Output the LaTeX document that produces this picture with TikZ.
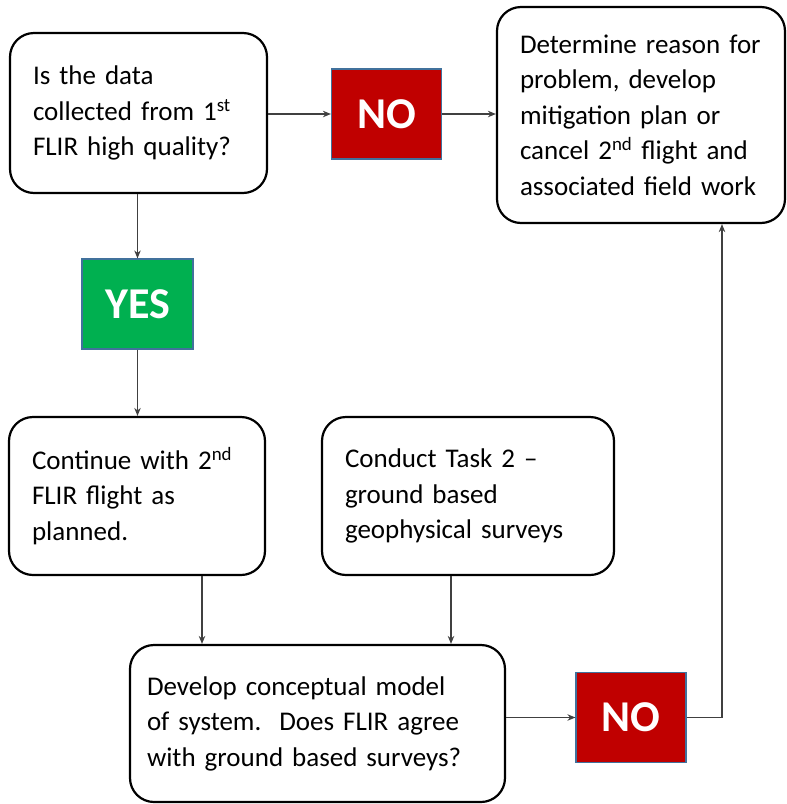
\documentclass[tikz,border=0pt]{standalone}
\usepackage{fontspec}
\setmainfont{Carlito}
\usetikzlibrary{calc,arrows.meta}
\definecolor{nored}{HTML}{C00000}
\definecolor{yesgreen}{HTML}{00B050}
\definecolor{edgeblue}{HTML}{41719C}
\definecolor{linegray}{HTML}{404040}
\begin{document}
\begin{tikzpicture}[x=1pt,y=-1pt,
  procbox/.style={draw=black, line width=2.2pt, rounded corners=24pt, fill=white,
    align=left, anchor=center, font=\fontsize{27}{35.5}\selectfont, text=black},
  nobox/.style={draw=edgeblue, line width=1.2pt, fill=nored, text=white,
    font=\fontsize{44}{44}\selectfont\bfseries, minimum width=110pt, minimum height=90pt, inner sep=0pt},
  yesbox/.style={draw=edgeblue, line width=1.2pt, fill=yesgreen, text=white,
    font=\fontsize{44}{44}\selectfont\bfseries, minimum width=111pt, minimum height=90pt, inner sep=0pt},
  arr/.style={draw=linegray, line width=1.4pt, -{Stealth[length=8pt,width=6.5pt]}}
]
\useasboundingbox (0,0) rectangle (787,804);

\node[procbox, inner xsep=23pt, text width=211pt, minimum height=160pt] (q1) at (138.5,113)
  {Is the data\\\mbox{collected from 1\textsuperscript{st}}\\\mbox{FLIR high quality?}};
\node[nobox] (no1) at (386.5,114) {NO};
\node[procbox, inner xsep=23pt, text width=242pt, minimum height=216pt] (det) at (641,115)
  {\mbox{Determine reason for}\\problem, develop\\mitigation plan or\\\mbox{cancel 2\textsuperscript{nd} flight and}\\\mbox{associated field work}};
\node[yesbox] (yes) at (137.5,304) {YES};
\node[procbox, inner xsep=23pt, text width=210pt, minimum height=158pt] (cont) at (137,496)
  {\mbox{Continue with 2\textsuperscript{nd}}\\FLIR flight as\\planned.};
\node[procbox, inner xsep=23pt, text width=246pt, minimum height=158pt] (task) at (468,496)
  {Conduct Task 2 --\\ground based\\\mbox{geophysical surveys}};
\node[procbox, inner xsep=17pt, text width=341pt, minimum height=157pt] (dev) at (317.5,723.5)
  {\mbox{Develop conceptual model}\\\mbox{of system.\ \ Does FLIR agree}\\\mbox{with ground based surveys?}};
\node[nobox] (no2) at (631,717.5) {NO};

\draw[arr] (no1.west -| q1.east) -- (no1.west);
\draw[arr] (no1.east) -- (no1.east -| det.west);
\draw[arr] (yes.north |- q1.south) -- (yes.north);
\draw[arr] (yes.south) -- (yes.south |- cont.north);
\coordinate (c1) at ($(cont.south)+(65,0)$);
\draw[arr] (c1) -- (c1 |- dev.north);
\coordinate (c2) at ($(task.south)+(-17,0)$);
\draw[arr] (c2) -- (c2 |- dev.north);
\draw[arr] (no2.west -| dev.east) -- (no2.west);
\coordinate (c3) at ($(det.south)+(81,0)$);
\draw[arr] (no2.east) -| (c3);
\end{tikzpicture}
\end{document}
